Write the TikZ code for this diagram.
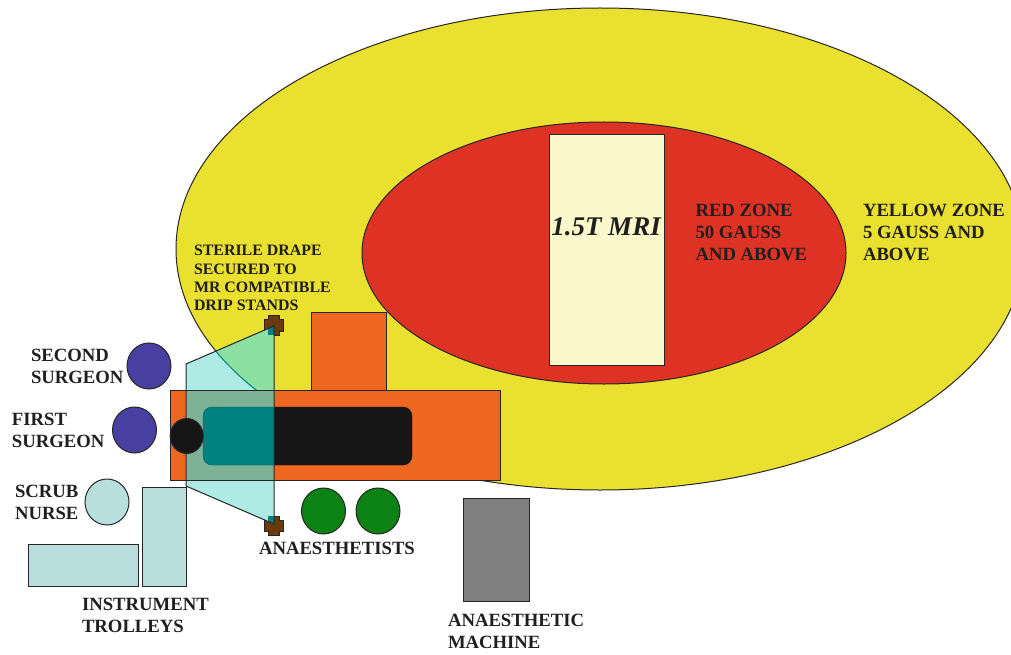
\documentclass[tikz,border=0pt]{standalone}
\usepackage{fontspec}
\setmainfont{Liberation Serif}
\usetikzlibrary{shapes.geometric, positioning}
\definecolor{zoneyellow}{HTML}{EAE02F}
\definecolor{zonered}{HTML}{DE3324}
\definecolor{mricream}{HTML}{FBF8CC}
\definecolor{tableorange}{HTML}{EE6721}
\definecolor{surgeonblue}{HTML}{4840A0}
\definecolor{trolleyblue}{HTML}{B8DEDE}
\definecolor{anaesgreen}{HTML}{0C8214}
\definecolor{machinegrey}{HTML}{808080}
\definecolor{standbrown}{HTML}{6B3A0A}
\definecolor{patientblack}{HTML}{161616}
\definecolor{drapecyan}{HTML}{AEEBE4}
\definecolor{drapeyellow}{HTML}{8DE0A0}
\definecolor{drapeorange}{HTML}{7DB294}
\definecolor{drapeteal}{HTML}{00807F}

\begin{document}
\begin{tikzpicture}[
    x=1pt, y=-1pt,
    every node/.style = {inner sep=0pt, outer sep=0pt},
    outline/.style = {draw=black!85, line width=1pt},
    box/.style = {outline, rectangle, anchor=north west},
    person/.style = {outline, ellipse, minimum width=44pt, minimum height=46pt},
    label/.style = {anchor=west, align=left, font=\bfseries\fontsize{18.7}{22}\selectfont,
                    text=black!88}
  ]
  \useasboundingbox (0,0) rectangle (1011,655);
  \clip (0,0) rectangle (1011,655);

  % zones and scanner
  \draw[outline, fill=zoneyellow] (600,249) ellipse [x radius=424, y radius=241];
  \draw[outline, fill=zonered] (604,253) ellipse [x radius=242, y radius=131];
  \node[box, fill=mricream, minimum width=115pt, minimum height=230pt] (mri) at (549,135) {};
  \node[font=\bfseries\itshape\fontsize{27}{30}\selectfont, text=black!88] (mrilabel) at (606,227) {1.5T MRI};

  % table
  \node[box, fill=tableorange, minimum width=75pt, minimum height=78pt] (arm) at (311,312) {};
  \node[box, fill=tableorange, minimum width=330pt, minimum height=90pt] (table) at (170,390) {};
  \draw[fill=patientblack, draw=patientblack, rounded corners=9pt] (203,407) rectangle (412,465);

  % drip stands
  \fill[standbrown, draw=black!85] (268,315) -- (279,315) -- (279,319) -- (283,319) -- (283,331) -- (279,331)
    -- (279,335) -- (268,335) -- (268,331) -- (264,331) -- (264,319) -- (268,319) -- cycle;
  \fill[standbrown, draw=black!85] (268,516) -- (279,516) -- (279,520) -- (283,520) -- (283,531) -- (279,531)
    -- (279,535) -- (268,535) -- (268,531) -- (264,531) -- (264,520) -- (268,520) -- cycle;

  % drape, each region in its own tint
  \begin{scope}
    \clip (186,364) -- (274,326) -- (274,524) -- (186,486) -- cycle;
    \fill[drapecyan] (186,320) rectangle (274,530);
    \draw[draw=drapeteal, line width=1pt, fill=drapeyellow] (600,249) ellipse [x radius=424, y radius=241];
    \fill[drapecyan] (186,390) rectangle (274,530);
    \draw[outline, fill=drapeorange] (170,390) rectangle (500,480);
    \draw[fill=drapeteal, draw=drapeteal!80!black, rounded corners=9pt] (203,407) rectangle (412,465);
    \fill[drapeteal] (268,326) rectangle (274,335);
    \fill[drapeteal] (268,516) rectangle (274,525);
  \end{scope}
  \draw[outline] (186,364) -- (274,326) -- (274,524) -- (186,486) -- cycle;
  \node[outline, ellipse, fill=patientblack, minimum width=33pt, minimum height=35pt] (head) at (186.7,436) {};

  % people
  \node[person, fill=surgeonblue] (second) at (149,366) {};
  \node[person, fill=surgeonblue] (first) at (134.5,430) {};
  \node[person, fill=trolleyblue] (nurse) at (107,502) {};
  \node[person, fill=anaesgreen] (anaesa) at (323.5,511) {};
  \node[person, fill=anaesgreen, right=10.5pt of anaesa] (anaesb) {};

  % trolleys and machine
  \node[box, fill=trolleyblue, minimum width=44pt, minimum height=99pt] (trolleya) at (142,487.5) {};
  \node[box, fill=trolleyblue, minimum width=110pt, minimum height=42pt] (trolleyb) at (28.5,544.5) {};
  \node[box, fill=machinegrey, minimum width=66pt, minimum height=103pt] (machine) at (463,498) {};

  % labels
  \node[label] (redlabel) at (695.5,232) {RED ZONE\\50 GAUSS\\AND ABOVE};
  \node[label] (yellowlabel) at (863,232) {YELLOW ZONE\\5 GAUSS AND\\ABOVE};
  \node[label, font=\bfseries\fontsize{15.9}{18.3}\selectfont] (drapelabel) at (194,278)
    {STERILE DRAPE\\SECURED TO\\MR COMPATIBLE\\DRIP STANDS};
  \node[label] (secondlabel) at (31,366) {SECOND\\SURGEON};
  \node[label] (firstlabel) at (12,430) {FIRST\\SURGEON};
  \node[label] (nurselabel) at (15,502) {SCRUB\\NURSE};
  \node[label] (anaeslabel) at (259,548) {ANAESTHETISTS};
  \node[label] (trolleylabel) at (82,615) {INSTRUMENT\\TROLLEYS};
  \node[label] (machinelabel) at (448,631) {ANAESTHETIC\\MACHINE};
\end{tikzpicture}
\end{document}
